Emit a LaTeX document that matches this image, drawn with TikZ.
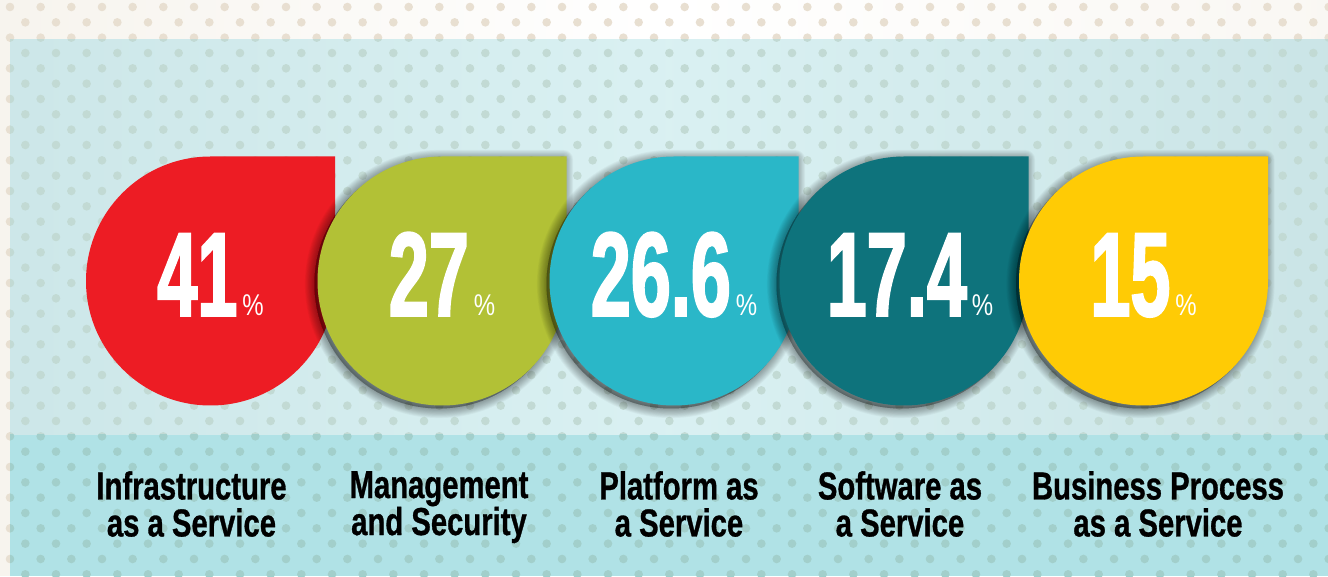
\documentclass[tikz,border=0pt]{standalone}
\usepackage{fontspec}
\setmainfont{Liberation Sans}
\newfontfamily\bignum[FakeStretch=0.6,FakeBold=1.5]{Liberation Sans}
\newfontfamily\pctfont[FakeStretch=0.8]{Liberation Sans}
\newfontfamily\labfont[FakeStretch=0.75,FakeBold=0.8]{Liberation Sans}
\definecolor{beigebg}{HTML}{F7F4EE}
\definecolor{beigedot}{HTML}{E8DFD1}
\definecolor{panelbg}{HTML}{D3EEF0}
\definecolor{paneldot}{HTML}{C2DAD4}
\definecolor{bandbg}{HTML}{B0E2E6}
\definecolor{banddot}{HTML}{A2CFCB}
\definecolor{cRed}{HTML}{ED1C24}
\definecolor{cGreen}{HTML}{B2C136}
\definecolor{cCyan}{HTML}{2AB7C8}
\definecolor{cTeal}{HTML}{0E737C}
\definecolor{cYellow}{HTML}{FFCB05}
\newcommand{\mydotgrid}[1]{%
  \foreach \j in {0,...,37}{%
    \pgfmathsetmacro\yy{576-7-15.333*\j}%
    \pgfmathsetmacro\xo{mod(\j,2)*15.333}%
    \foreach \i in {0,...,43}{%
      \fill[#1] ({10+\xo+30.667*\i},\yy) circle[radius=4.3];
    }%
  }%
}
\newcommand{\droppath}[2]{% center x, center y (y up), r=124.5
  (#1+124.5,#2) -- (#1+124.5,#2+124.5) -- (#1,#2+124.5)
  arc[start angle=90,end angle=360,radius=124.5] -- cycle}
\newcommand{\dropshadow}[2]{%
  \foreach \k in {1,...,12}{%
    \filldraw[black,opacity=0.03,line width=1.6*\k,line join=round,shift={(-3,-3)}] \droppath{#1}{#2};
  }%
}
\begin{document}
\begin{tikzpicture}[x=1pt,y=1pt,
  numtxt/.style={text=white,inner sep=0pt,anchor=base},
  labtxt/.style={text=black,inner sep=0pt,anchor=north,align=center,
    font=\labfont\bfseries\fontsize{39}{37}\selectfont}]
\useasboundingbox (0,0) rectangle (1328,576);
% backgrounds
\fill[beigebg] (0,0) rectangle (1328,576);
\shade[left color=beigebg,right color=beigebg!70!white,middle color=white] (10,536) rectangle (1328,576);
\shade[left color=panelbg!97!black,right color=panelbg!96!black,middle color=panelbg!85!white] (10,141) rectangle (1328,536);
\fill[bandbg] (10,0) rectangle (1328,141);
% dots
\begin{scope}
  \clip (0,536) rectangle (1328,576) (0,0) rectangle (10,536);
  \mydotgrid{beigedot}
\end{scope}
\begin{scope}
  \clip (10,141) rectangle (1328,536);
  \mydotgrid{paneldot}
\end{scope}
\begin{scope}
  \clip (10,0) rectangle (1328,141);
  \mydotgrid{banddot}
\end{scope}
% drops
\fill[cRed] \droppath{210.5}{295};
\dropshadow{442}{295}
\fill[cGreen] \droppath{442}{295};
\dropshadow{674}{295}
\fill[cCyan] \droppath{674}{295};
\dropshadow{904}{295}
\fill[cTeal] \droppath{904}{295};
\dropshadow{1143.5}{295}
\fill[cYellow] \droppath{1143.5}{295};
% numbers
\newcommand{\pct}{\hspace{5pt}{\pctfont\fontsize{30}{30}\selectfont\%}}
\node[numtxt] (n1) at (210.5,260) {{\bignum\bfseries\fontsize{120}{120}\selectfont 41}\pct};
\node[numtxt] (n2) at (442,260) {{\bignum\bfseries\fontsize{120}{120}\selectfont 27}\pct};
\node[numtxt] (n3) at (674,260) {{\bignum\bfseries\fontsize{120}{120}\selectfont 26.6}\pct};
\node[numtxt] (n4) at (910,260) {{\bignum\bfseries\fontsize{120}{120}\selectfont 17.4}\pct};
\node[numtxt] (n5) at (1143.5,260) {{\bignum\bfseries\fontsize{120}{120}\selectfont 15}\pct};
% labels
\node[labtxt] (l1) at (191.5,105) {Infrastructure\\as a Service};
\node[labtxt] (l2) at (439,105) {Management\\and Security};
\node[labtxt] (l3) at (679,105) {Platform as\\a Service};
\node[labtxt] (l4) at (900,105) {Software as\\a Service};
\node[labtxt] (l5) at (1158,105) {Business Process\\as a Service};
\end{tikzpicture}
\end{document}
